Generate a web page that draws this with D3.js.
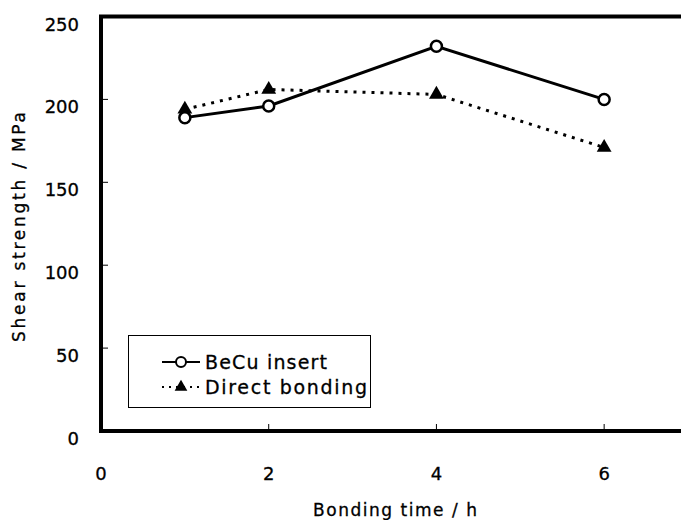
<!DOCTYPE html>
<html>
<head>
<meta charset="utf-8">
<script src="https://cdn.jsdelivr.net/npm/d3@7"></script>
<style>
  body { margin: 0; background: #fff; }
  text { font-family: "DejaVu Sans", Arial, sans-serif; fill: #000; stroke: #000; stroke-width: 0.3px; }
</style>
</head>
<body>
<svg id="viz"></svg>
<script>
const WIDTH = 681
const HEIGHT = 520

const bondingTime = [1, 2, 4, 6]
const becuInsert = [189, 196, 232, 200]
const directBonding = [194, 206, 203, 171]

const xTicks = [0, 2, 4, 6]
const yTicks = [0, 50, 100, 150, 200, 250]

const seriesNames = ['BeCu insert', 'Direct bonding']

const margin = { left: 101, top: 16.5, bottom: 88 }

const x = d3.scaleLinear().domain([0, 7]).range([margin.left, 688])
const y = d3.scaleLinear().domain([0, 250]).range([HEIGHT - margin.bottom - 1, margin.top])

const svg = d3.select('#viz')
    .attr('width', WIDTH)
    .attr('height', HEIGHT)

// ticks (inward)
svg.append('g')
    .selectAll('line')
    .data(yTicks.slice(1, -1))
    .enter().append('line')
        .attr('x1', x(0)).attr('x2', x(0) + 7)
        .attr('y1', d => y(d)).attr('y2', d => y(d))
        .style('stroke', '#000').style('stroke-width', 1)

svg.append('g')
    .selectAll('line')
    .data(xTicks.slice(1))
    .enter().append('line')
        .attr('x1', d => x(d)).attr('x2', d => x(d))
        .attr('y1', y(0)).attr('y2', y(0) - 7)
        .style('stroke', '#000').style('stroke-width', 1)

// frame: left, top, bottom
const frame = d3.path()
frame.moveTo(WIDTH, y(250))
frame.lineTo(x(0), y(250))
frame.lineTo(x(0), y(0))
frame.lineTo(WIDTH, y(0))
svg.append('path')
    .attr('d', frame.toString())
    .style('fill', 'none')
    .style('stroke', '#000')
    .style('stroke-width', 4)

// tick labels
svg.append('g')
    .selectAll('text')
    .data(yTicks)
    .enter().append('text')
        .attr('x', 79)
        .attr('y', d => y(d) + 14)
        .attr('text-anchor', 'end')
        .style('font-size', '18px')
        .text(d => d)

svg.append('g')
    .selectAll('text')
    .data(xTicks)
    .enter().append('text')
        .attr('x', d => x(d))
        .attr('y', 480)
        .attr('text-anchor', 'middle')
        .style('font-size', '18px')
        .text(d => d)

// axis titles
svg.append('text')
    .attr('transform', 'translate(25,227) rotate(-90)')
    .attr('text-anchor', 'middle')
    .style('font-size', '17px')
    .attr('textLength', 230)
    .text('Shear strength / MPa')

svg.append('text')
    .attr('x', 395)
    .attr('y', 516)
    .attr('text-anchor', 'middle')
    .style('font-size', '17px')
    .attr('textLength', 164)
    .text('Bonding time / h')

// series
const becuPts = bondingTime.map((t, i) => [x(t), y(becuInsert[i])])
const directPts = bondingTime.map((t, i) => [x(t), y(directBonding[i])])

svg.append('path')
    .attr('d', d3.line()(directPts))
    .style('fill', 'none')
    .style('stroke', '#000')
    .style('stroke-width', 3)
    .style('stroke-dasharray', '3,6')

svg.append('path')
    .attr('d', d3.line()(becuPts))
    .style('fill', 'none')
    .style('stroke', '#000')
    .style('stroke-width', 3)

const triangle = d3.symbol().type(d3.symbolTriangle).size(95)

svg.append('g')
    .selectAll('path')
    .data(directPts)
    .enter().append('path')
        .attr('transform', d => `translate(${d[0]},${d[1]})`)
        .attr('d', triangle)
        .style('fill', '#000')

svg.append('g')
    .selectAll('circle')
    .data(becuPts)
    .enter().append('circle')
        .attr('cx', d => d[0])
        .attr('cy', d => d[1])
        .attr('r', 5.5)
        .style('fill', '#fff')
        .style('stroke', '#000')
        .style('stroke-width', 2.5)

// legend
const legend = svg.append('g')
legend.append('rect')
    .attr('x', 128.5).attr('y', 335.5)
    .attr('width', 242).attr('height', 72)
    .style('fill', '#fff')
    .style('stroke', '#000')
    .style('stroke-width', 1)

const rowY = [362, 387]
legend.append('line')
    .attr('x1', 162).attr('x2', 200)
    .attr('y1', rowY[0]).attr('y2', rowY[0])
    .style('stroke', '#000').style('stroke-width', 2)
legend.append('circle')
    .attr('cx', 181).attr('cy', rowY[0]).attr('r', 5)
    .style('fill', '#fff').style('stroke', '#000').style('stroke-width', 2)

legend.append('line')
    .attr('x1', 162).attr('x2', 200)
    .attr('y1', rowY[1]).attr('y2', rowY[1])
    .style('stroke', '#000').style('stroke-width', 2)
    .style('stroke-dasharray', '2,5')
legend.append('path')
    .attr('transform', `translate(181,${rowY[1]})`)
    .attr('d', d3.symbol().type(d3.symbolTriangle).size(70))
    .style('fill', '#000')

legend.selectAll('text.lbl')
    .data(seriesNames)
    .enter().append('text')
        .attr('class', 'lbl')
        .attr('x', 205)
        .attr('y', (d, i) => rowY[i] + 7)
        .style('font-size', '19px')
        .attr('textLength', (d, i) => i === 0 ? 122 : 162)
        .text(d => d)
</script>
</body>
</html>
